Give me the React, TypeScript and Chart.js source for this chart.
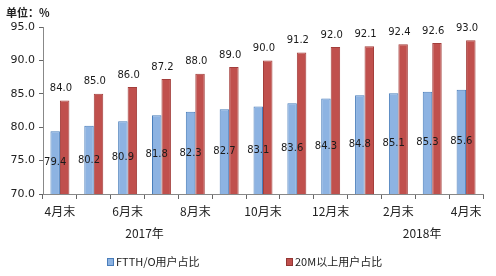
import React, { useEffect, useRef } from "react";
import { Chart, registerables } from "chart.js";

Chart.register(...registerables);

const categories = ["4月末", "", "6月末", "", "8月末", "", "10月末", "", "12月末", "", "2月末", "", "4月末"];
const ftthValues = [79.4, 80.2, 80.9, 81.8, 82.3, 82.7, 83.1, 83.6, 84.3, 84.8, 85.1, 85.3, 85.6];
const m20Values = [84.0, 85.0, 86.0, 87.2, 88.0, 89.0, 90.0, 91.2, 92.0, 92.1, 92.4, 92.6, 93.0];
const yTicks = [70, 75, 80, 85, 90, 95];
const seriesNames = ["FTTH/O用户占比", "20M以上用户占比"];
const yearLabels = ["2017年", "2018年"];
const unitLabel = "单位：%";

const NUM_FONT = "'DejaVu Sans', sans-serif";
const CJK_FONT = "'Noto Sans CJK SC', sans-serif";

const overlayPlugin = {
  id: "overlay",
  afterDraw(chart: any) {
    const ctx = chart.ctx;
    const xs = chart.scales.x;
    const ys = chart.scales.y;
    const m0 = chart.getDatasetMeta(0);
    const m1 = chart.getDatasetMeta(1);
    const yBase = ys.getPixelForValue(yTicks[0]);
    ctx.save();
    ctx.fillStyle = "#1a1a1a";
    ctx.font = `10px ${NUM_FONT}`;
    ctx.textAlign = "center";
    ctx.textBaseline = "middle";
    ftthValues.forEach((v, i) => {
      const bar = m0.data[i];
      const yTop = ys.getPixelForValue(v);
      ctx.fillText(v.toFixed(1), bar.x, (yTop + yBase) / 2);
    });
    m20Values.forEach((v, i) => {
      const bar = m1.data[i];
      const cx = (bar.x + m0.data[i].x) / 2 + 1;
      ctx.fillText(v.toFixed(1), cx, ys.getPixelForValue(v) - 12);
    });
    // unit title
    ctx.fillStyle = "#222";
    ctx.font = `bold 11px ${CJK_FONT}`;
    ctx.textAlign = "left";
    ctx.fillText(unitLabel, 6, 13);
    // year labels
    ctx.font = `12px ${CJK_FONT}`;
    ctx.textAlign = "center";
    const p2 = xs.getPixelForValue(2);
    const p3 = xs.getPixelForValue(3);
    ctx.fillText(yearLabels[0], (p2 + p3) / 2, 233);
    const p10 = xs.getPixelForValue(10);
    const p11 = xs.getPixelForValue(11);
    ctx.fillText(yearLabels[1], p10 + (p11 - p10) * 0.7, 233);
    // legend
    const colors = [
      { fill: "#8DB3E2", stroke: "#4A7EBB" },
      { fill: "#C0504D", stroke: "#943634" },
    ];
    const starts = [107, 286];
    ctx.font = `11px ${CJK_FONT}`;
    ctx.textAlign = "left";
    seriesNames.forEach((name, i) => {
      const x = starts[i];
      ctx.fillStyle = colors[i].fill;
      ctx.fillRect(x, 258, 6, 7);
      ctx.strokeStyle = colors[i].stroke;
      ctx.lineWidth = 1;
      ctx.strokeRect(x + 0.5, 258.5, 6, 7);
      ctx.fillStyle = "#222";
      ctx.fillText(name, x + 9, 262);
    });
    ctx.restore();
  },
};

export default function App() {
  const ref = useRef<HTMLCanvasElement | null>(null);
  useEffect(() => {
    if (!ref.current) return;
    const chart = new Chart(ref.current, {
      type: "bar",
      data: {
        labels: categories,
        datasets: [
          {
            label: seriesNames[0],
            data: ftthValues,
            backgroundColor: "#8DB3E2",
            borderColor: "#4A7EBB",
            borderWidth: 1,
            barPercentage: 1,
            categoryPercentage: 0.56,
          },
          {
            label: seriesNames[1],
            data: m20Values,
            backgroundColor: "#C0504D",
            borderColor: "#A33E3B",
            borderWidth: 1,
            barPercentage: 1,
            categoryPercentage: 0.56,
          },
        ],
      },
      options: {
        responsive: false,
        animation: false,
        layout: { padding: { top: 27, right: 13, left: 0, bottom: 0 } },
        plugins: { legend: { display: false }, tooltip: { enabled: false } },
        scales: {
          x: {
            offset: true,
            grid: { offset: true, drawOnChartArea: false, drawTicks: true, tickLength: 5, color: "#666" },
            border: { color: "#888" },
            ticks: {
              autoSkip: false,
              maxRotation: 0,
              color: "#222",
              font: { family: CJK_FONT, size: 12 },
              padding: 5,
            },
            afterFit(scale: any) {
              scale.height = 82;
            },
          },
          y: {
            min: 70,
            max: 95,
            afterBuildTicks(scale: any) {
              scale.ticks = yTicks.map((v) => ({ value: v }));
            },
            grid: { drawOnChartArea: false, drawTicks: true, tickLength: 4, color: "#666" },
            border: { color: "#888" },
            ticks: {
              color: "#222",
              font: { family: NUM_FONT, size: 11 },
              padding: 4,
              callback: (v: any) => Number(v).toFixed(1),
            },
            afterFit(scale: any) {
              scale.width = 43;
            },
          },
        },
      },
      plugins: [overlayPlugin],
    });
    return () => chart.destroy();
  }, []);
  return (
    <div style={{ position: "absolute", left: 0, top: 0, width: 496, height: 276, background: "#fff" }}>
      <canvas ref={ref} width={496} height={276} style={{ width: 496, height: 276 }} />
    </div>
  );
}
